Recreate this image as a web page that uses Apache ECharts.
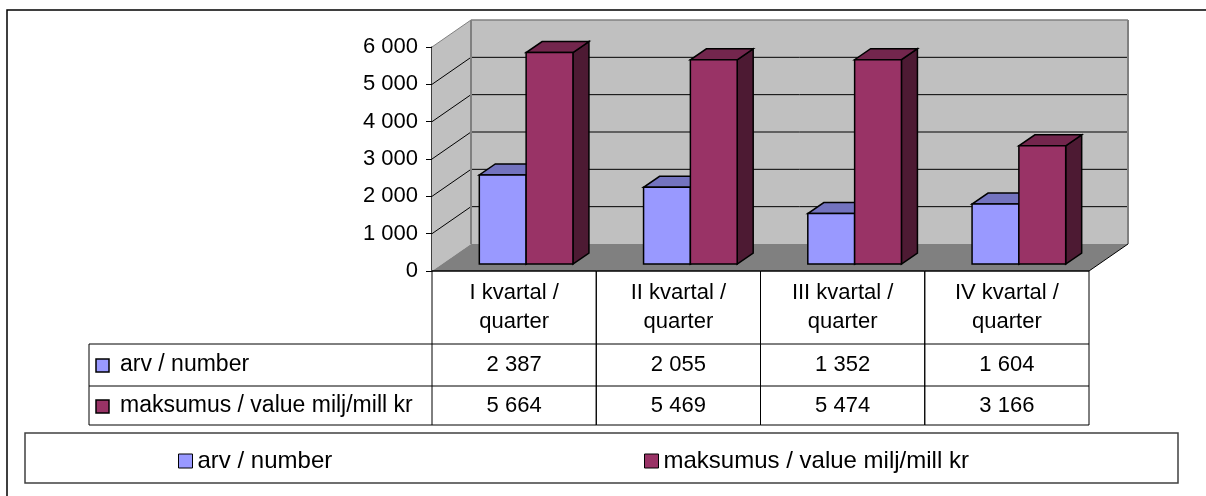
<!DOCTYPE html>
<html>
<head>
<meta charset="utf-8">
<script src="https://cdn.jsdelivr.net/npm/echarts@6/dist/echarts.min.js"></script>
<style>
  html, body { margin: 0; padding: 0; background: #fff; }
  #showChart { width: 1206px; height: 496px; }
</style>
</head>
<body>
<div id="showChart"></div>
<script>
// data
const categories = ["I kvartal /\nquarter", "II kvartal /\nquarter", "III kvartal /\nquarter", "IV kvartal /\nquarter"];
const seriesNames = ["arv / number", "maksumus / value milj/mill kr"];
const arvValues = [2387, 2055, 1352, 1604];
const valueValues = [5664, 5469, 5474, 3166];
const yTicks = [0, 1000, 2000, 3000, 4000, 5000, 6000];

const FONT = "Liberation Sans";
const DEPTH = [39, -27];   // wall depth offset
const FRONT = [12, -7];    // bar front plane
const BAR_D = [16, -11];   // bar depth

const faceColors = [
  { front: "#9999FF", top: "#7373BF", side: "#4D4D80" },
  { front: "#993366", top: "#73264D", side: "#4D1A33" },
];

function fmt(v) {
  return String(v).replace(/\B(?=(\d{3})+(?!\d))/g, " ");
}

function poly(pts, fill, stroke, lw) {
  return {
    type: "polygon",
    shape: { points: pts },
    style: { fill: fill, stroke: stroke || null, lineWidth: lw || 0 },
  };
}
function line(x1, y1, x2, y2, color, lw) {
  return {
    type: "line",
    shape: { x1: x1, y1: y1, x2: x2, y2: y2 },
    style: { stroke: color, lineWidth: lw || 1 },
  };
}

// walls, floor and gridlines
function renderWalls(params, api) {
  const cs = params.coordSys;
  const xl = cs.x, xr = cs.x + cs.width;
  const y0 = api.coord([0, 0])[1];
  const yTop = api.coord([0, yTicks[yTicks.length - 1]])[1];
  const dx = DEPTH[0], dy = DEPTH[1];
  const kids = [];
  // back wall
  kids.push(poly([[xl + dx, yTop + dy], [xr + dx, yTop + dy], [xr + dx, y0 + dy], [xl + dx, y0 + dy]], "#C0C0C0"));
  // side wall
  kids.push(poly([[xl, yTop], [xl + dx, yTop + dy], [xl + dx, y0 + dy], [xl, y0]], "#C0C0C0"));
  // floor
  kids.push(poly([[xl, y0], [xr, y0], [xr + dx, y0 + dy], [xl + dx, y0 + dy]], "#808080"));
  // gridlines
  yTicks.slice(1, -1).forEach(function (t) {
    const y = api.coord([0, t])[1];
    kids.push(line(xl, y, xl + dx, y + dy, "#000", 1));
    kids.push(line(xl + dx, y + dy, xr + dx, y + dy, "#000", 1));
  });
  // wall edges
  kids.push(line(xl, yTop, xl + dx, yTop + dy, "#808080", 1));
  kids.push(line(xl + dx, yTop + dy, xr + dx, yTop + dy, "#808080", 1.5));
  kids.push(line(xl + dx, yTop + dy, xl + dx, y0 + dy, "#808080", 2));
  kids.push(line(xr + dx, yTop + dy, xr + dx, y0 + dy, "#808080", 2));
  kids.push(line(xr, y0, xr + dx, y0 + dy, "#000", 1));
  return { type: "group", children: kids };
}

// 3D column
function makeBarRenderer(side) {
  const c = faceColors[side];
  return function (params, api) {
    const top = api.coord([api.value(0), api.value(1)]);
    const base = api.coord([api.value(0), 0]);
    const band = api.size([1, 0])[0];
    const bw = band * 0.285;
    const cx = top[0] + FRONT[0];
    const x0 = side === 0 ? cx - bw : cx;
    const x1 = x0 + bw;
    const yT = top[1] + FRONT[1];
    const yB = base[1] + FRONT[1];
    const dx = BAR_D[0], dy = BAR_D[1];
    const st = "#000", lw = 1.5;
    return {
      type: "group",
      children: [
        poly([[x1, yT], [x1 + dx, yT + dy], [x1 + dx, yB + dy], [x1, yB]], c.side, st, lw),
        poly([[x0, yT], [x1, yT], [x1 + dx, yT + dy], [x0 + dx, yT + dy]], c.top, st, lw),
        poly([[x0, yT], [x1, yT], [x1, yB], [x0, yB]], c.front, st, lw),
      ],
    };
  };
}

// data table under the plot
function renderTable(params, api) {
  const i = api.value(0);
  const cx = api.coord([i, 0])[0];
  const y0 = api.coord([i, 0])[1];
  const band = api.size([1, 0])[0];
  const xa = cx - band / 2, xb = cx + band / 2;
  const rows = [y0, y0 + 73, y0 + 115, y0 + 154];
  const kids = [];
  const tstyle = { fontFamily: FONT, fontSize: 22, fill: "#000", align: "center", verticalAlign: "middle" };
  kids.push(line(xa, rows[0], xb, rows[0], "#000", 1.5));
  kids.push(line(xa, rows[0], xa, rows[3], "#000", 1));
  kids.push(line(xb, rows[0], xb, rows[3], "#000", 1));
  for (let r = 1; r < 4; r++) kids.push(line(xa, rows[r], xb, rows[r], "#000", 1));
  const lab = categories[i].split("\n");
  kids.push({ type: "text", style: Object.assign({ text: lab[0], x: cx, y: y0 + 22 }, tstyle) });
  kids.push({ type: "text", style: Object.assign({ text: lab[1], x: cx, y: y0 + 51 }, tstyle) });
  kids.push({ type: "text", style: Object.assign({ text: fmt(arvValues[i]), x: cx, y: y0 + 94 }, tstyle) });
  kids.push({ type: "text", style: Object.assign({ text: fmt(valueValues[i]), x: cx, y: y0 + 135 }, tstyle) });
  if (i === 0) {
    const xl = 89;
    kids.push(line(xl, rows[1], xa, rows[1], "#000", 1));
    kids.push(line(xl, rows[2], xa, rows[2], "#000", 1));
    kids.push(line(xl, rows[3], xa, rows[3], "#000", 1));
    kids.push(line(xl, rows[1], xl, rows[3], "#000", 1));
    [0, 1].forEach(function (s) {
      const ym = s === 0 ? y0 + 94 : y0 + 135;
      kids.push({
        type: "rect",
        shape: { x: xl + 7, y: ym - 6, width: 13, height: 13 },
        style: { fill: faceColors[s].front, stroke: "#000", lineWidth: 1.5 },
      });
      kids.push({
        type: "text",
        style: { text: seriesNames[s], x: xl + 31, y: ym, fontFamily: FONT, fontSize: 23, fill: "#000", align: "left", verticalAlign: "middle" },
      });
    });
  }
  return { type: "group", children: kids };
}

let myChart = echarts.init(document.getElementById("showChart"));
let option = {
  animation: false,
  backgroundColor: "#fff",
  textStyle: { fontFamily: FONT },
  grid: { left: 432, right: 117, top: 47, bottom: 225 },
  graphic: [
    { type: "rect", shape: { x: 7, y: 10, width: 1230, height: 520 }, style: { fill: null, stroke: "#000", lineWidth: 1.5 }, z: -10 },
    { type: "rect", shape: { x: 25, y: 433, width: 1153, height: 50 }, style: { fill: null, stroke: "#404040", lineWidth: 1.5 }, z: -10 },
  ],
  legend: [
    {
      data: [{ name: seriesNames[0], icon: "rect", itemStyle: { color: faceColors[0].front, borderColor: "#000", borderWidth: 1 } }],
      left: 173, top: 444, itemWidth: 14, itemHeight: 14, itemGap: 0,
      textStyle: { fontFamily: FONT, fontSize: 24, color: "#000", padding: [0, 0, 0, 0] },
      selectedMode: false,
    },
    {
      data: [{ name: seriesNames[1], icon: "rect", itemStyle: { color: faceColors[1].front, borderColor: "#000", borderWidth: 1 } }],
      left: 639, top: 444, itemWidth: 14, itemHeight: 14, itemGap: 0,
      textStyle: { fontFamily: FONT, fontSize: 24, color: "#000", padding: [0, 0, 0, 0] },
      selectedMode: false,
    },
  ],
  xAxis: {
    type: "category",
    data: categories,
    axisLine: { show: false },
    axisTick: { show: false },
    axisLabel: { show: false },
  },
  yAxis: {
    type: "value",
    min: 0,
    max: 6000,
    interval: 1000,
    axisLine: { show: true, lineStyle: { color: "#000", width: 1.5 } },
    axisTick: { show: true, length: 6, lineStyle: { color: "#000" } },
    axisLabel: { formatter: fmt, margin: 14, fontFamily: FONT, fontSize: 22, color: "#000" },
    splitLine: { show: false },
  },
  series: [
    {
      name: "walls",
      type: "custom",
      renderItem: renderWalls,
      data: [[0, 0]],
      silent: true,
      z: 1,
    },
    {
      name: seriesNames[0],
      type: "custom",
      renderItem: makeBarRenderer(0),
      data: arvValues.map(function (v, i) { return [i, v]; }),
      itemStyle: { color: faceColors[0].front },
      z: 2,
    },
    {
      name: seriesNames[1],
      type: "custom",
      renderItem: makeBarRenderer(1),
      data: valueValues.map(function (v, i) { return [i, v]; }),
      itemStyle: { color: faceColors[1].front },
      z: 3,
    },
    {
      name: "table",
      type: "custom",
      renderItem: renderTable,
      data: categories.map(function (c, i) { return [i, 0]; }),
      silent: true,
      z: 4,
    },
  ],
};
myChart.setOption(option);
</script>
</body>
</html>
